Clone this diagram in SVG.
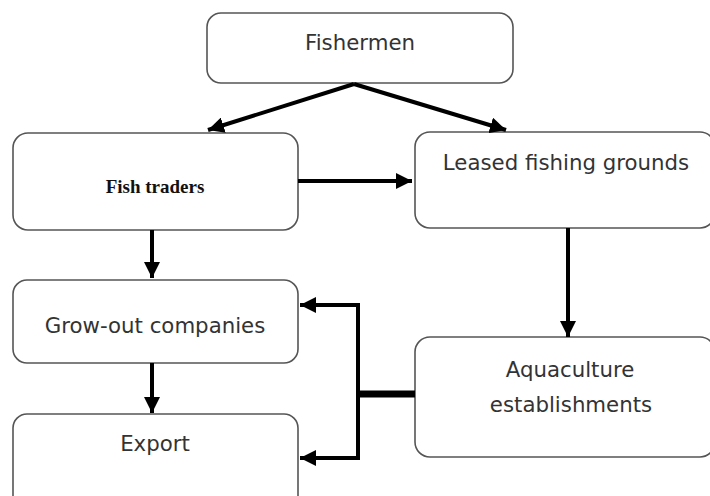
<svg xmlns="http://www.w3.org/2000/svg" width="710" height="496" viewBox="0 0 710 496">
<style>
.box{fill:#fff;stroke:#555;stroke-width:1.6}
.t{font-family:"DejaVu Sans",sans-serif;font-size:21.3px;fill:#333;text-anchor:middle}
.s{font-family:"Liberation Serif",serif;font-size:19px;fill:#111;text-anchor:middle;font-weight:bold}
.c{fill:none;stroke:#000;stroke-width:4}
</style>
<defs>
<marker id="ah" viewBox="0 0 10 10" refX="10" refY="5" markerWidth="4" markerHeight="4" markerUnits="strokeWidth" orient="auto">
<path d="M0,0 L10,5 L0,10 z" fill="#000"/>
</marker>
</defs>
<rect width="710" height="496" fill="#fff"/>
<g id="fishermen"><rect class="box" x="207" y="13" width="306" height="70" rx="14"/><text class="t" x="360" y="50">Fishermen</text></g>
<g id="fish-traders"><rect class="box" x="13" y="133" width="285" height="97" rx="15"/><text class="s" x="155" y="193">Fish traders</text></g>
<g id="leased"><rect class="box" x="415" y="132" width="300" height="96" rx="15"/><text class="t" x="566" y="170">Leased fishing grounds</text></g>
<g id="grow-out"><rect class="box" x="13" y="280" width="285" height="83" rx="14"/><text class="t" x="155" y="333">Grow-out companies</text></g>
<g id="export"><rect class="box" x="13" y="414" width="285" height="100" rx="14"/><text class="t" x="155" y="451">Export</text></g>
<g id="aquaculture"><rect class="box" x="415" y="337" width="300" height="120" rx="15"/><text class="t" x="570" y="377">Aquaculture</text><text class="t" x="571" y="412">establishments</text></g>
<g id="connectors">
<path class="c" d="M354,84 L208,130" marker-end="url(#ah)"/>
<path class="c" d="M354,84 L506,130" marker-end="url(#ah)"/>
<path class="c" d="M298,181 L412,181" marker-end="url(#ah)"/>
<path class="c" d="M152,230 L152,278" marker-end="url(#ah)"/>
<path class="c" d="M152,363 L152,413" marker-end="url(#ah)"/>
<path class="c" d="M568,228 L568,337" marker-end="url(#ah)"/>
<path d="M415,394 L358,394" stroke="#000" stroke-width="7" fill="none"/>
<path class="c" d="M358,394 L358,305 L300,305" marker-end="url(#ah)"/>
<path class="c" d="M358,394 L358,458 L300,458" marker-end="url(#ah)"/>
</g>
</svg>
